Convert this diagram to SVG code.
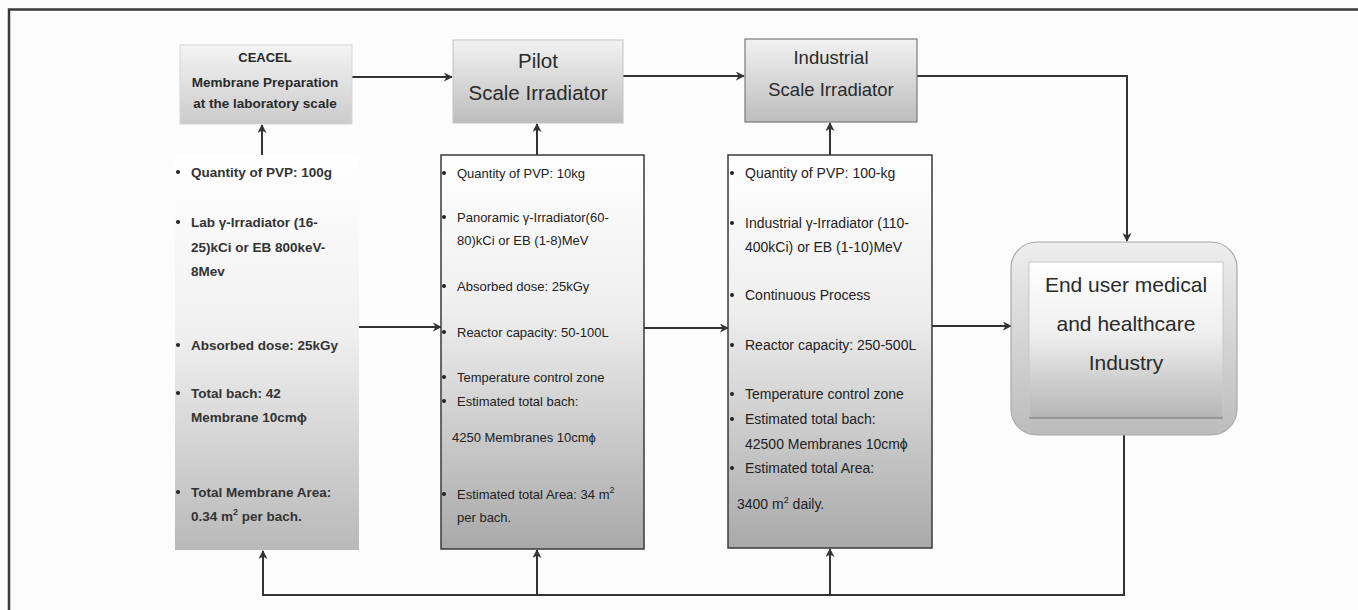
<svg xmlns="http://www.w3.org/2000/svg" width="1358" height="610" viewBox="0 0 1358 610">
  <defs>
    <linearGradient id="gLab" x1="0" y1="0" x2="0" y2="1">
      <stop offset="0" stop-color="#ffffff"/>
      <stop offset="0.45" stop-color="#f0f0f0"/>
      <stop offset="1" stop-color="#b9b9b9"/>
    </linearGradient>
    <linearGradient id="gCol" x1="0" y1="0" x2="0" y2="1">
      <stop offset="0" stop-color="#ffffff"/>
      <stop offset="0.4" stop-color="#eeeeee"/>
      <stop offset="1" stop-color="#a9a9a9"/>
    </linearGradient>
    <linearGradient id="gHead" x1="0" y1="0" x2="0" y2="1">
      <stop offset="0" stop-color="#f2f2f2"/>
      <stop offset="1" stop-color="#bdbdbd"/>
    </linearGradient>
    <linearGradient id="gHeadLight" x1="0" y1="0" x2="0" y2="1">
      <stop offset="0" stop-color="#f4f4f4"/>
      <stop offset="1" stop-color="#cbcbcb"/>
    </linearGradient>
    <linearGradient id="gEndOuter" x1="0" y1="0" x2="0" y2="1">
      <stop offset="0" stop-color="#eeeeee"/>
      <stop offset="1" stop-color="#bcbcbc"/>
    </linearGradient>
    <linearGradient id="gEndInner" x1="0" y1="0" x2="0" y2="1">
      <stop offset="0" stop-color="#ffffff"/>
      <stop offset="0.45" stop-color="#f0f0f0"/>
      <stop offset="1" stop-color="#b5b5b5"/>
    </linearGradient>
    <marker id="arr" viewBox="0 0 10 10" refX="9" refY="5" markerWidth="9" markerHeight="9" markerUnits="userSpaceOnUse" orient="auto">
      <path d="M0,0 L10,5 L0,10 L3,5 z" fill="#333"/>
    </marker>
    <style>
      .conn { fill: none; stroke: #333; stroke-width: 2; }
      .lab { font-family: "Liberation Sans", Arial, sans-serif; font-size: 13.5px; font-weight: bold; fill: #333; }
      .pil { font-family: "Liberation Sans", Arial, sans-serif; font-size: 13px; fill: #222; }
      .ind { font-family: "Liberation Sans", Arial, sans-serif; font-size: 14px; fill: #222; }
      .title { font-family: "Liberation Sans", Arial, sans-serif; fill: #2a2a2a; text-anchor: middle; }
      .bul { fill: #222; }
    </style>
  </defs>

  <rect x="0" y="0" width="1358" height="610" fill="#fcfcfc"/>
  <path d="M9,610 V9.5 H1358" fill="none" stroke="#3a3a3a" stroke-width="2.5"/>

  <g id="connectors">
    <path class="conn" d="M352,77 H452" marker-end="url(#arr)"/>
    <path class="conn" d="M623,76 H744" marker-end="url(#arr)"/>
    <path class="conn" d="M917,76 H1127 V241" marker-end="url(#arr)"/>
    <path class="conn" d="M262,155 V125" marker-end="url(#arr)"/>
    <path class="conn" d="M537,155 V124" marker-end="url(#arr)"/>
    <path class="conn" d="M830,155 V123" marker-end="url(#arr)"/>
    <path class="conn" d="M359,327 H441" marker-end="url(#arr)"/>
    <path class="conn" d="M644,328 H728" marker-end="url(#arr)"/>
    <path class="conn" d="M932,326 H1011" marker-end="url(#arr)"/>
    <path class="conn" d="M1124,435 V595 H263 V551" marker-end="url(#arr)"/>
    <path class="conn" d="M537,595 V550" marker-end="url(#arr)"/>
    <path class="conn" d="M830,595 V549" marker-end="url(#arr)"/>
  </g>

  <g id="ceacel">
    <rect x="180" y="45" width="172" height="79" fill="url(#gHeadLight)" stroke="#d6d6d6" stroke-width="1"/>
    <text class="title" x="265" y="62" font-size="13px" font-weight="bold">CEACEL</text>
    <text class="title" x="265" y="87" font-size="13.5px" font-weight="bold">Membrane Preparation</text>
    <text class="title" x="265" y="108" font-size="13.5px" font-weight="bold">at the laboratory scale</text>
  </g>

  <g id="pilot">
    <rect x="453" y="40" width="170" height="83" fill="url(#gHead)" stroke="#c4c4c4" stroke-width="1"/>
    <text class="title" x="538" y="68" font-size="20.5px">Pilot</text>
    <text class="title" x="538" y="100" font-size="20.5px">Scale Irradiator</text>
  </g>

  <g id="industrial">
    <rect x="745" y="39" width="172" height="83" fill="url(#gHead)" stroke="#7a7a7a" stroke-width="1.2"/>
    <text class="title" x="831" y="64" font-size="18.5px">Industrial</text>
    <text class="title" x="831" y="96" font-size="18.5px">Scale Irradiator</text>
  </g>

  <g id="lab-column">
    <rect x="175" y="155" width="184" height="395" fill="url(#gLab)"/>
    <circle class="bul" cx="178" cy="172" r="2"/>
    <text class="lab" x="191" y="177">Quantity of PVP: 100g</text>
    <circle class="bul" cx="178" cy="222" r="2"/>
    <text class="lab" x="191" y="227">Lab γ-Irradiator (16-</text>
    <text class="lab" x="191" y="252">25)kCi or EB 800keV-</text>
    <text class="lab" x="191" y="276">8Mev</text>
    <circle class="bul" cx="178" cy="345" r="2"/>
    <text class="lab" x="191" y="350">Absorbed dose: 25kGy</text>
    <circle class="bul" cx="178" cy="393" r="2"/>
    <text class="lab" x="191" y="398">Total bach: 42</text>
    <text class="lab" x="191" y="422">Membrane 10cmϕ</text>
    <circle class="bul" cx="178" cy="492" r="2"/>
    <text class="lab" x="191" y="497">Total Membrane Area:</text>
    <text class="lab" x="191" y="521">0.34 m<tspan font-size="9px" dy="-6">2</tspan><tspan dy="6"> per bach.</tspan></text>
  </g>

  <g id="pilot-column">
    <rect x="441" y="155" width="203" height="394" fill="url(#gCol)" stroke="#3a3a3a" stroke-width="1.5"/>
    <circle class="bul" cx="444" cy="173" r="2"/>
    <text class="pil" x="457" y="178">Quantity of PVP: 10kg</text>
    <circle class="bul" cx="444" cy="217" r="2"/>
    <text class="pil" x="457" y="222">Panoramic γ-Irradiator(60-</text>
    <text class="pil" x="457" y="245">80)kCi or EB (1-8)MeV</text>
    <circle class="bul" cx="444" cy="286" r="2"/>
    <text class="pil" x="457" y="291">Absorbed dose: 25kGy</text>
    <circle class="bul" cx="444" cy="332" r="2"/>
    <text class="pil" x="457" y="337">Reactor capacity: 50-100L</text>
    <circle class="bul" cx="444" cy="377" r="2"/>
    <text class="pil" x="457" y="382">Temperature control zone</text>
    <circle class="bul" cx="444" cy="401" r="2"/>
    <text class="pil" x="457" y="406">Estimated total bach:</text>
    <text class="pil" x="452" y="442">4250 Membranes 10cmϕ</text>
    <circle class="bul" cx="444" cy="494" r="2"/>
    <text class="pil" x="457" y="499">Estimated total Area: 34 m<tspan font-size="9px" dy="-6">2</tspan></text>
    <text class="pil" x="457" y="522">per bach.</text>
  </g>

  <g id="industrial-column">
    <rect x="728" y="155" width="204" height="393" fill="url(#gCol)" stroke="#3a3a3a" stroke-width="1.5"/>
    <circle class="bul" cx="732" cy="173" r="2"/>
    <text class="ind" x="745" y="178">Quantity of PVP: 100-kg</text>
    <circle class="bul" cx="732" cy="223" r="2"/>
    <text class="ind" x="745" y="228">Industrial γ-Irradiator (110-</text>
    <text class="ind" x="745" y="252">400kCi) or EB (1-10)MeV</text>
    <circle class="bul" cx="732" cy="295" r="2"/>
    <text class="ind" x="745" y="300">Continuous Process</text>
    <circle class="bul" cx="732" cy="345" r="2"/>
    <text class="ind" x="745" y="350">Reactor capacity: 250-500L</text>
    <circle class="bul" cx="732" cy="394" r="2"/>
    <text class="ind" x="745" y="399">Temperature control zone</text>
    <circle class="bul" cx="732" cy="419" r="2"/>
    <text class="ind" x="745" y="424">Estimated total bach:</text>
    <text class="ind" x="745" y="449">42500 Membranes 10cmϕ</text>
    <circle class="bul" cx="732" cy="468" r="2"/>
    <text class="ind" x="745" y="473">Estimated total Area:</text>
    <text class="ind" x="737" y="509">3400 m<tspan font-size="9px" dy="-6">2</tspan><tspan dy="6"> daily.</tspan></text>
  </g>

  <g id="end-user">
    <rect x="1011" y="242" width="226" height="193" rx="26" ry="26" fill="url(#gEndOuter)" stroke="#a8a8a8" stroke-width="1.2"/>
    <rect x="1029" y="262" width="194" height="156" fill="url(#gEndInner)" stroke="#c8c8c8" stroke-width="1"/>
    <line x1="1029" y1="418" x2="1223" y2="418" stroke="#8a8a8a" stroke-width="1.5"/>
    <text class="title" x="1126" y="292" font-size="21px">End user medical</text>
    <text class="title" x="1126" y="331" font-size="21px">and healthcare</text>
    <text class="title" x="1126" y="370" font-size="21px">Industry</text>
  </g>
</svg>
